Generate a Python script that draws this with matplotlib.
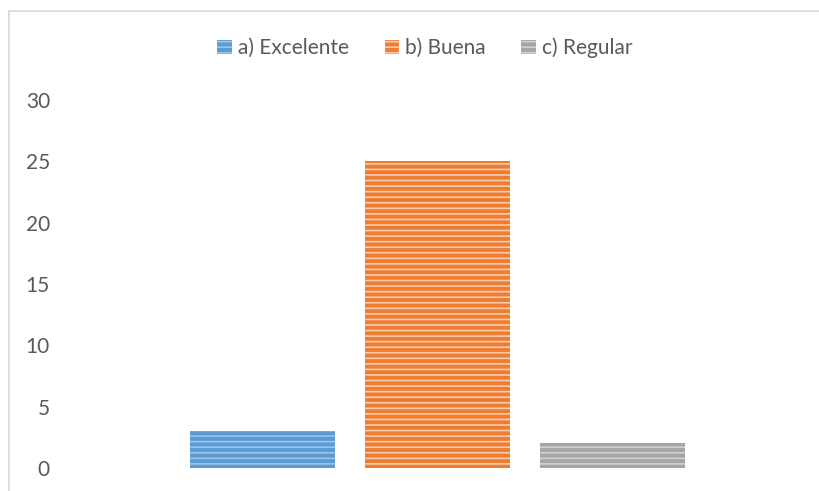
import matplotlib.pyplot as plt
from matplotlib.lines import Line2D

# data
series = ["a) Excelente", "b) Buena", "c) Regular"]
values = [3, 25, 2]
colors = ["#5B9BD5", "#ED7D31", "#A5A5A5"]
stripes = ["#9DC3E6", "#F8CBAD", "#D0D0D0"]
yticks = [0, 5, 10, 15, 20, 25, 30]

plt.rcParams["font.family"] = ["Lato", "DejaVu Sans"]
plt.rcParams["hatch.linewidth"] = 1.2

fig = plt.figure(figsize=(8.19, 4.91), dpi=100)
ax = fig.add_axes([75 / 819, 23 / 491, 725 / 819, 368 / 491])

for i, (name, v) in enumerate(zip(series, values)):
    ax.bar(i, v, width=0.83, color=colors[i], edgecolor=stripes[i],
           linewidth=0, hatch="---", label=name)

ax.set_ylim(0, 30)
ax.set_xlim(1 - 2.071, 1 + 2.071)
ax.set_yticks(yticks)
ax.set_xticks([])
ax.tick_params(axis="y", length=0, pad=18, labelsize=15, labelcolor="#595959")
for s in ax.spines.values():
    s.set_visible(False)

leg = ax.legend(loc="center", bbox_to_anchor=(425 / 819, 1 - 48 / 491),
                bbox_transform=fig.transFigure, ncol=3, frameon=False,
                fontsize=15, handlelength=0.7, handleheight=0.7,
                handletextpad=0.3, columnspacing=1.7)
for t in leg.get_texts():
    t.set_color("#595959")

# chart frame (only left and top edges are visible in the picture)
fig.add_artist(Line2D([8.5 / 819, 8.5 / 819], [0, 1 - 11 / 491],
                      transform=fig.transFigure, color="#D9D9D9", lw=1.2))
fig.add_artist(Line2D([8.5 / 819, 1], [1 - 11 / 491, 1 - 11 / 491],
                      transform=fig.transFigure, color="#D9D9D9", lw=1.2))

fig.savefig("out.png", dpi=100)
